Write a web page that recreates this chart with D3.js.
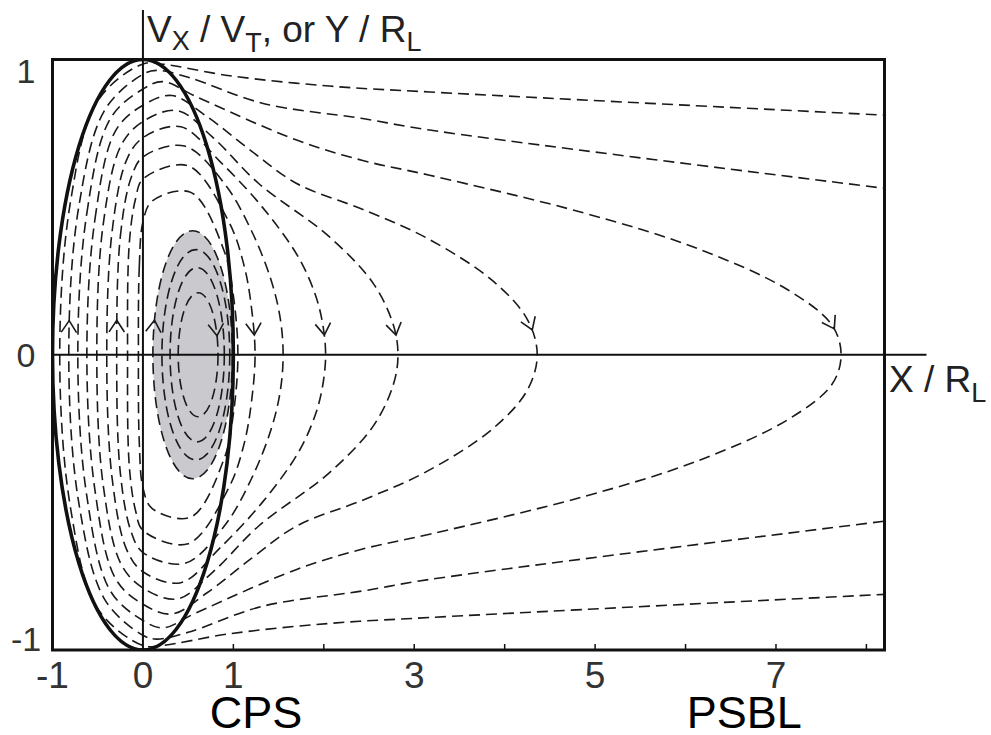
<!DOCTYPE html>
<html lang="en">
<head>
<meta charset="UTF-8">
<title>Orbits</title>
<style>
  body { margin: 0; background: #fff; }
  svg { font-family: "Liberation Sans", Arial, sans-serif; }
  .orbit { fill: none; stroke: #1a1a1a; stroke-width: 1.6px; stroke-dasharray: 11 6; }
  .core { fill: none; stroke: #1a1a1a; stroke-width: 1.6px; stroke-dasharray: 11 6; }
  .arrow { fill: none; stroke: #1a1a1a; stroke-width: 1.6px; }
</style>
</head>
<body>
<script src="https://d3js.org/d3.v7.min.js"></script>
<script>
var width = 991, height = 735;

// tick values
var xTicks = [1, 2, 3, 4, 5, 6, 7, 8];
var xLabels = [-1, 0, 1, 3, 5, 7];
var yLabels = [1, 0, -1];

// upper halves of the dashed orbits (X/RL, Vx/VT)
// the lower halves are the mirror image
var loopA = [[-0.92,0],[-0.80,0.52],[-0.50,0.86],[0,0.985],[0.2,0.985],[0.96,0.945],[2.06,0.91],[3.17,0.89],[8.3,0.81]];
var loopB = [[-0.82,0],[-0.71,0.50],[-0.42,0.83],[0,0.95],[0.15,0.963],[0.5,0.94],[1.32,0.852],[2.43,0.80],[3.17,0.761],[8.3,0.56]];
var loopC = [[-0.72,0],[-0.62,0.48],[-0.36,0.80],[0,0.90],[0.22,0.925],[0.59,0.874],[1.70,0.727],[2.43,0.658],[3.17,0.608],[4.88,0.48],[6.13,0.36],[7.13,0.22],[7.62,0.1],[7.72,0]];
var loopD = [[-0.62,0],[-0.53,0.46],[-0.30,0.76],[0,0.845],[0.32,0.878],[0.71,0.806],[1.2,0.69],[1.70,0.58],[2.45,0.49],[3.14,0.395],[3.87,0.25],[4.25,0.12],[4.36,0]];
var loopE = [[-0.51,0],[-0.44,0.44],[-0.24,0.71],[0,0.79],[0.38,0.827],[0.77,0.737],[1.28,0.58],[2.06,0.40],[2.55,0.24],[2.77,0.1],[2.82,0]];
var loopF = [[-0.40,0],[-0.34,0.42],[-0.18,0.66],[0,0.735],[0.42,0.772],[0.85,0.655],[1.32,0.50],[1.72,0.33],[1.91,0.2],[1.99,0.1],[2.02,0]];
var loopG = [[-0.29,0],[-0.25,0.40],[-0.13,0.60],[0,0.67],[0.46,0.707],[0.9,0.58],[1.2,0.42],[1.42,0.25],[1.52,0.12],[1.55,0]];
var loopH = [[-0.17,0],[-0.15,0.38],[-0.08,0.53],[0,0.595],[0.50,0.64],[0.95,0.45],[1.12,0.3],[1.2,0.16],[1.24,0]];
var loopI = [[-0.05,0],[-0.04,0.30],[0,0.45],[0.1,0.52],[0.53,0.55],[0.9,0.35],[1.0,0.2],[1.05,0]];
var loops = [loopA, loopB, loopC, loopD, loopE, loopF, loopG, loopH, loopI];

// closed orbits round the shaded core: centre X, half width, half height
var coreCx = [0.61, 0.60, 0.585, 0.55];
var coreRx = [0.22, 0.30, 0.375, 0.44];
var coreRy = [0.21, 0.295, 0.356, 0.42];

// arrow heads: [X, Vx, direction]
var arrows = [[-0.81,0.117,"up"],[-0.31,0.117,"up"],[0.13,0.117,"up"],
              [0.83,0.066,"down"],[1.24,0.066,"down"],[1.98,0.066,"down"],
              [2.78,0.066,"down"],[4.27,0.08,"down"],[7.55,0.07,"down"]];

var x = d3.scaleLinear().domain([-1, 8.2]).range([52.5, 884.5]);
var y = d3.scaleLinear().domain([-1, 1]).range([650, 59.5]);

var svg = d3.select("body").append("svg")
    .attr("width", width)
    .attr("height", height);

svg.append("defs").append("clipPath").attr("id", "plot")
  .append("rect")
    .attr("x", x(-1)).attr("y", y(1))
    .attr("width", x(8.2) - x(-1)).attr("height", y(-1) - y(1));

var plot = svg.append("g").attr("clip-path", "url(#plot)");

// shaded core
plot.append("ellipse")
    .attr("cx", x(coreCx[3])).attr("cy", y(0))
    .attr("rx", x(coreRx[3]) - x(0)).attr("ry", y(0) - y(coreRy[3]))
    .attr("fill", "#c9c9ce");

var line = d3.line().x(function(d) { return x(d[0]); }).y(function(d) { return y(d[1]); });

var orbitEls = [];
loops.forEach(function(pts) {
    var last = pts[pts.length - 1];
    var full, curve;
    if (last[1] === 0) {
        var lower = pts.slice(1, -1).reverse().map(function(p) { return [p[0], -p[1]]; });
        full = pts.concat(lower);
        curve = d3.curveCatmullRomClosed.alpha(0.5);
    } else {
        var upper = pts.slice().reverse();
        var lower2 = pts.slice(1).map(function(p) { return [p[0], -p[1]]; });
        full = upper.concat(lower2);
        curve = d3.curveCatmullRom.alpha(0.5);
    }
    var el = plot.append("path")
        .attr("class", "orbit")
        .attr("d", line.curve(curve)(full));
    orbitEls.push(el.node());
});

coreCx.forEach(function(cx, i) {
    var el = plot.append("ellipse")
        .attr("class", "core")
        .attr("cx", x(cx)).attr("cy", y(0))
        .attr("rx", x(coreRx[i]) - x(0)).attr("ry", y(0) - y(coreRy[i]));
    orbitEls.push(el.node());
});

// big gyration circle
plot.append("ellipse")
    .attr("cx", x(0)).attr("cy", y(0))
    .attr("rx", x(1) - x(0)).attr("ry", y(0) - y(1))
    .attr("fill", "none").attr("stroke", "#111").attr("stroke-width", 3.6);

// arrow heads placed on the nearest orbit
arrows.forEach(function(a) {
    var px = x(a[0]), py = y(a[1]);
    var best = null;
    orbitEls.forEach(function(el) {
        var len = el.getTotalLength();
        for (var l = 0; l < len; l += 1.5) {
            var p = el.getPointAtLength(l);
            var d = (p.x - px) * (p.x - px) + (p.y - py) * (p.y - py);
            if (!best || d < best.d) best = { d: d, el: el, l: l, p: p };
        }
    });
    var len = best.el.getTotalLength();
    var p1 = best.el.getPointAtLength(Math.max(0, best.l - 3));
    var p2 = best.el.getPointAtLength(Math.min(len, best.l + 3));
    var tx = p2.x - p1.x, ty = p2.y - p1.y;
    var n = Math.sqrt(tx * tx + ty * ty);
    tx /= n; ty /= n;
    if ((a[2] === "down" && ty < 0) || (a[2] === "up" && ty > 0)) { tx = -tx; ty = -ty; }
    var tip = best.p, L = 14, ang = 0.58;
    var arms = [ang, -ang].map(function(t) {
        var bx = -tx, by = -ty;
        return [tip.x + L * (bx * Math.cos(t) - by * Math.sin(t)),
                tip.y + L * (bx * Math.sin(t) + by * Math.cos(t))];
    });
    svg.append("path").attr("class", "arrow")
        .attr("d", "M" + arms[0] + "L" + tip.x + "," + tip.y + "L" + arms[1]);
});

// frame
svg.append("rect")
    .attr("x", x(-1)).attr("y", y(1))
    .attr("width", x(8.2) - x(-1)).attr("height", y(-1) - y(1))
    .attr("fill", "none").attr("stroke", "#111").attr("stroke-width", 3);

// axes through the origin
svg.append("line").attr("x1", x(-1)).attr("x2", x(8.2) + 42)
    .attr("y1", y(0)).attr("y2", y(0)).attr("stroke", "#111").attr("stroke-width", 2);
svg.append("line").attr("x1", x(0)).attr("x2", x(0))
    .attr("y1", y(-1)).attr("y2", 10).attr("stroke", "#111").attr("stroke-width", 2);

// tick marks pointing up from the bottom frame
svg.selectAll(".xtick").data(xTicks).enter().append("line")
    .attr("x1", function(d) { return x(d); }).attr("x2", function(d) { return x(d); })
    .attr("y1", y(-1)).attr("y2", y(-1) - 6)
    .attr("stroke", "#111").attr("stroke-width", 1.5);

svg.selectAll(".xlab").data(xLabels).enter().append("text")
    .attr("x", function(d) { return x(d); })
    .attr("y", y(-1) + 38)
    .attr("text-anchor", "middle")
    .attr("font-size", 37).attr("fill", "#333")
    .text(function(d) { return d; });

svg.selectAll(".ylab").data(yLabels).enter().append("text")
    .attr("x", 26)
    .attr("y", function(d) { return y(d) + 12 + d * 11; })
    .attr("text-anchor", "middle")
    .attr("font-size", 34).attr("fill", "#333")
    .text(function(d) { return d; });

// axis titles
var yt = svg.append("text").attr("x", 147).attr("y", 42).attr("font-size", 37).attr("fill", "#222");
yt.append("tspan").text("V");
yt.append("tspan").attr("dy", 8).attr("font-size", 27).text("X");
yt.append("tspan").attr("dy", -8).text(" / V");
yt.append("tspan").attr("dy", 10).attr("font-size", 27).text("T");
yt.append("tspan").attr("dy", -10).text(", or Y / R");
yt.append("tspan").attr("dy", 9).attr("font-size", 27).text("L");

var xt = svg.append("text").attr("x", 889).attr("y", 392).attr("font-size", 37).attr("fill", "#222");
xt.append("tspan").text("X / R");
xt.append("tspan").attr("dy", 10).attr("font-size", 27).text("L");

// region names
svg.append("text").attr("x", x(1.25)).attr("y", 728).attr("text-anchor", "middle")
    .attr("font-size", 45).attr("fill", "#000").text("CPS");
svg.append("text").attr("x", x(6.65)).attr("y", 728).attr("text-anchor", "middle")
    .attr("font-size", 45).attr("fill", "#000").text("PSBL");
</script>
</body>
</html>
